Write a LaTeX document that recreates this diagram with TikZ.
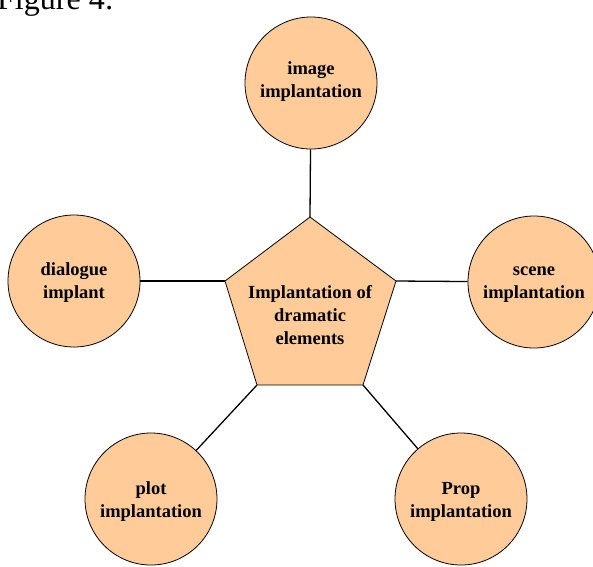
\documentclass[tikz,border=0pt]{standalone}
\usepackage{fontspec}
\setmainfont{Liberation Serif}
\begin{document}
\begin{tikzpicture}[x=1pt,y=-1pt,
  bubble/.style={circle,draw=black,line width=0.8pt,fill=peach,minimum size=132pt,inner sep=0pt},
  tag/.style={align=center,font=\fontsize{18.5}{23}\selectfont\bfseries},
  link/.style={draw=black,line width=1.3pt}]
\definecolor{peach}{RGB}{255,204,153}
\useasboundingbox (0,0) rectangle (593,566);
\clip (0,0) rectangle (593,566);

% caption line at the top
\node[anchor=base west,inner sep=0pt,font=\fontsize{32}{36}\selectfont] (cap) at (-3,9) {Figure 4:};

% central pentagon
\coordinate (pt) at (310,217);
\coordinate (pl) at (225,281);
\coordinate (pr) at (396,281);
\coordinate (pbl) at (257,385);
\coordinate (pbr) at (363,385);
\draw[fill=peach,line width=0.8pt,line join=miter] (pt) -- (pr) -- (pbr) -- (pbl) -- (pl) -- cycle;
\node[tag] (core) at (310,315) {Implantation of\\dramatic\\elements};

% surrounding circles with their labels
\node[bubble,label={[tag,yshift=1pt]center:image\\implantation}] (image) at (311,83) {};
\node[bubble,label={[tag,yshift=-2pt]center:dialogue\\implant}] (dialogue) at (74,281) {};
\node[bubble,label={[tag,yshift=-3pt]center:scene\\implantation}] (scene) at (534,282) {};
\node[bubble,label={[tag,yshift=-3pt]center:plot\\implantation}] (plot) at (151,499) {};
\node[bubble,label={[tag,yshift=-3pt]center:Prop\\implantation}] (prop) at (461,499) {};

% spokes
\draw[link] (image) -- (pt);
\draw[link] (dialogue) -- (pl);
\draw[link] (scene) -- (pr);
\draw[link] (plot) -- (pbl);
\draw[link] (prop) -- (pbr);
\end{tikzpicture}
\end{document}
